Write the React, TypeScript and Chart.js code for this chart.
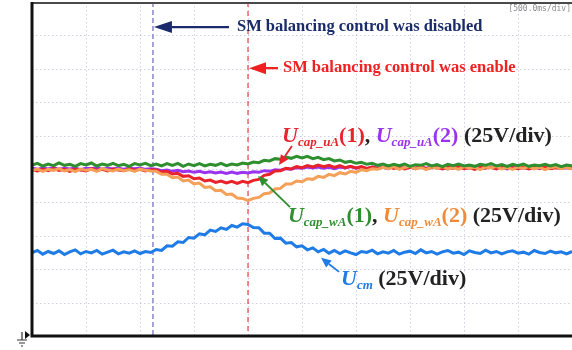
import React, { useEffect, useRef } from "react";
import { Chart, registerables } from "chart.js";
Chart.register(...registerables);

// Oscilloscope settings: 10 horizontal divisions at 500 ms/div, 10 vertical divisions
const SEC_PER_DIV = 0.5;
const X_DIVS = 10;
const Y_DIVS = 10;
const SAMPLE_STEP = 0.05; // seconds between read samples (0.1 div)

// Event times (s)
const T_DISABLED = 1.12;
const T_ENABLED = 2.0;

// Trace values in vertical divisions
const U_CM = [
  2.50, 2.56, 2.45, 2.53, 2.47, 2.55, 2.44, 2.52, 2.58, 2.46, 2.53, 2.49, 2.56, 2.45, 2.51, 2.57, 2.46, 2.52, 2.48, 2.55, 2.47, 2.53, 2.50,
  2.59, 2.56, 2.70, 2.69, 2.82, 2.80, 2.95, 2.93, 3.06, 3.03, 3.17, 3.13, 3.24, 3.19, 3.31, 3.26, 3.36, 3.34,
  3.25, 3.24, 3.08, 3.08, 2.92, 2.93, 2.78, 2.80, 2.67, 2.70, 2.58, 2.64, 2.52, 2.59, 2.48, 2.56,
  2.47, 2.55, 2.49, 2.44, 2.53, 2.50, 2.57, 2.46, 2.52, 2.48, 2.56, 2.45, 2.51, 2.54, 2.47, 2.58, 2.49, 2.53, 2.45, 2.52, 2.56, 2.48,
  2.51, 2.44, 2.55, 2.50, 2.47, 2.57, 2.49, 2.53, 2.46, 2.52, 2.55, 2.48, 2.51, 2.45, 2.56, 2.50, 2.47, 2.54, 2.49, 2.52, 2.46, 2.53,
];
const U_CAP_UA1 = [
  4.98, 4.94, 5.00, 4.95, 5.01, 4.96, 4.99, 4.93, 5.00, 4.97, 4.94, 5.01, 4.96, 4.99, 4.94, 5.00, 4.97, 4.95, 5.01, 4.96, 4.99, 4.94, 4.98,
  4.97, 4.91, 4.93, 4.85, 4.87, 4.78, 4.80, 4.71, 4.73, 4.64, 4.67, 4.60, 4.64, 4.58, 4.63, 4.57, 4.63, 4.59,
  4.66, 4.69, 4.81, 4.84, 4.94, 4.95, 5.02, 5.00, 5.07, 5.04,
  5.10, 5.06, 5.12, 5.07, 5.11, 5.05, 5.10, 5.04, 5.08, 5.03, 5.07, 5.02, 5.06, 5.01, 5.05, 5.08, 5.02, 5.06, 5.00, 5.05,
  5.03, 5.07, 5.01, 5.04, 5.06, 5.00, 5.05, 5.02, 5.07, 5.01, 5.04, 4.99, 5.06, 5.03, 5.05, 5.00, 5.07, 5.02, 5.04, 5.01,
  5.06, 5.00, 5.05, 5.03, 5.07, 5.01, 5.04, 5.02, 5.06, 5.01,
];
const U_CAP_UA2 = [
  5.02, 4.99, 5.03, 5.00, 5.04, 4.99, 5.02, 5.00, 5.03, 4.98, 5.02, 5.01, 5.04, 4.99, 5.02, 5.00, 5.03, 4.99, 5.02, 5.01, 5.03, 4.99, 5.01,
  4.99, 4.95, 4.97, 4.93, 4.96, 4.92, 4.94, 4.90, 4.93, 4.89, 4.92, 4.88, 4.91, 4.87, 4.91, 4.87, 4.90, 4.88,
  4.92, 4.90, 4.95, 4.93, 4.98, 4.96, 5.01, 4.99, 5.04, 5.02, 5.06, 5.03,
  5.06, 5.02, 5.05, 5.01, 5.06, 5.03, 5.07, 5.02, 5.05, 5.00, 5.06, 5.03, 5.05, 5.01, 5.07, 5.02, 5.04, 5.06, 5.01, 5.05,
  5.02, 5.07, 5.03, 5.04, 5.00, 5.06, 5.02, 5.05, 5.03, 5.07, 5.01, 5.04, 5.06, 5.02, 5.05, 5.00, 5.06, 5.03, 5.04, 5.02,
  5.07, 5.01, 5.05, 5.03, 5.06, 5.02, 5.04, 5.03,
];
const U_CAP_WA1 = [
  5.12, 5.17, 5.09, 5.15, 5.10, 5.18, 5.11, 5.14, 5.08, 5.16, 5.12, 5.18, 5.09, 5.15, 5.11, 5.17, 5.10, 5.14, 5.08, 5.16, 5.12, 5.17, 5.10,
  5.15, 5.09, 5.16, 5.11, 5.17, 5.08, 5.15, 5.10, 5.16, 5.09, 5.14, 5.11, 5.17, 5.10, 5.15,
  5.12, 5.18, 5.15, 5.21, 5.19, 5.26, 5.24, 5.31, 5.29, 5.36, 5.32, 5.38, 5.33, 5.38, 5.31, 5.35, 5.28, 5.31, 5.24, 5.27,
  5.20, 5.23, 5.17, 5.20, 5.14, 5.17, 5.11, 5.15,
  5.09, 5.14, 5.10, 5.15, 5.08, 5.13, 5.11, 5.16, 5.09, 5.13, 5.07, 5.14, 5.10, 5.15, 5.09, 5.12, 5.08, 5.14, 5.11, 5.16,
  5.09, 5.13, 5.08, 5.14, 5.10, 5.15, 5.08, 5.12, 5.10, 5.14, 5.09, 5.13, 5.07, 5.12, 5.10,
];
const U_CAP_WA2 = [
  4.95, 5.00, 4.93, 4.99, 4.96, 5.01, 4.94, 4.98, 4.92, 5.00, 4.96, 4.99, 4.93, 5.01, 4.97, 4.94, 5.00, 4.95, 4.98, 4.93, 5.00, 4.96, 4.94,
  4.93, 4.84, 4.84, 4.74, 4.76, 4.64, 4.67, 4.55, 4.58, 4.45, 4.47, 4.35, 4.36, 4.24, 4.25, 4.13, 4.12, 4.05,
  4.12, 4.15, 4.26, 4.28, 4.40, 4.42, 4.55, 4.55, 4.64, 4.62, 4.71, 4.69, 4.78, 4.75, 4.84, 4.80, 4.89, 4.85, 4.93, 4.90,
  4.98, 4.95, 5.01,
  4.99, 5.05, 5.01, 5.07, 4.99, 5.04, 5.08, 5.00, 5.05, 4.98, 5.06, 5.02, 5.08, 5.00, 5.04, 4.99, 5.07, 5.02, 5.05, 4.98,
  5.06, 5.03, 5.08, 5.00, 5.04, 4.99, 5.06, 5.02, 5.07, 5.00, 5.05, 4.98, 5.04, 5.07, 5.01, 5.05, 5.00,
];

const C_RED = "#e8232b";
const C_PURPLE = "#9a32f0";
const C_GREEN = "#2f8f2f";
const C_ORANGE = "#f5a058";
const C_ORANGE_TXT = "#ef8a3a";
const C_BLUE = "#1f7be6";
const C_NAVY = "#1a2b6b";
const C_BLACK = "#222";

const SERIES = [
  { label: "Ucap_wA(1)", values: U_CAP_WA1, color: C_GREEN },
  { label: "Ucap_wA(2)", values: U_CAP_WA2, color: C_ORANGE },
  { label: "Ucap_uA(1)", values: U_CAP_UA1, color: C_RED },
  { label: "Ucap_uA(2)", values: U_CAP_UA2, color: C_PURPLE },
  { label: "Ucm", values: U_CM, color: C_BLUE },
];

const SERIF = '"Liberation Serif", "Times New Roman", serif';

type Piece = { t: string; c: string; it?: boolean; sub?: boolean };
const ROW_UA: Piece[] = [
  { t: "U", c: C_RED, it: true }, { t: "cap_uA", c: C_RED, it: true, sub: true }, { t: "(1)", c: C_RED },
  { t: ", ", c: C_BLACK },
  { t: "U", c: C_PURPLE, it: true }, { t: "cap_uA", c: C_PURPLE, it: true, sub: true }, { t: "(2)", c: C_PURPLE },
  { t: " (25V/div)", c: C_BLACK },
];
const ROW_WA: Piece[] = [
  { t: "U", c: C_GREEN, it: true }, { t: "cap_wA", c: C_GREEN, it: true, sub: true }, { t: "(1)", c: C_GREEN },
  { t: ", ", c: C_BLACK },
  { t: "U", c: C_ORANGE_TXT, it: true }, { t: "cap_wA", c: C_ORANGE_TXT, it: true, sub: true }, { t: "(2)", c: C_ORANGE_TXT },
  { t: " (25V/div)", c: C_BLACK },
];
const ROW_CM: Piece[] = [
  { t: "U", c: C_BLUE, it: true }, { t: "cm", c: C_BLUE, it: true, sub: true },
  { t: " (25V/div)", c: C_BLACK },
];

function drawArrow(ctx: CanvasRenderingContext2D, x1: number, y1: number, x2: number, y2: number, color: string, w: number, hl: number, hw: number) {
  const ang = Math.atan2(y2 - y1, x2 - x1);
  const bx = x2 - hl * Math.cos(ang);
  const by = y2 - hl * Math.sin(ang);
  ctx.save();
  ctx.strokeStyle = color;
  ctx.fillStyle = color;
  ctx.lineWidth = w;
  ctx.setLineDash([]);
  ctx.beginPath();
  ctx.moveTo(x1, y1);
  ctx.lineTo(bx, by);
  ctx.stroke();
  ctx.beginPath();
  ctx.moveTo(x2, y2);
  ctx.lineTo(bx + (hw / 2) * Math.sin(ang), by - (hw / 2) * Math.cos(ang));
  ctx.lineTo(bx - (hw / 2) * Math.sin(ang), by + (hw / 2) * Math.cos(ang));
  ctx.closePath();
  ctx.fill();
  ctx.restore();
}

function drawRich(ctx: CanvasRenderingContext2D, pieces: Piece[], x: number, baseline: number) {
  let cx = x;
  ctx.save();
  ctx.textBaseline = "alphabetic";
  ctx.textAlign = "left";
  for (const p of pieces) {
    const size = p.sub ? 13 : 22;
    ctx.font = `${p.it ? "italic " : ""}bold ${size}px ${SERIF}`;
    ctx.fillStyle = p.c;
    ctx.fillText(p.t, cx, baseline + (p.sub ? 4 : 0));
    cx += ctx.measureText(p.t).width;
  }
  ctx.restore();
}

const scopePlugin = {
  id: "scope",
  beforeDatasetsDraw(chart: any) {
    const { ctx, chartArea: a, scales } = chart;
    const xs = scales.x, ys = scales.y;
    ctx.save();
    ctx.strokeStyle = "rgba(180,175,205,0.6)";
    ctx.lineWidth = 1;
    ctx.setLineDash([1.5, 2.5]);
    for (let i = 1; i < X_DIVS; i++) {
      const px = Math.round(xs.getPixelForValue(i * SEC_PER_DIV)) + 0.5;
      ctx.beginPath(); ctx.moveTo(px, a.top); ctx.lineTo(px, a.bottom); ctx.stroke();
    }
    for (let j = 1; j < Y_DIVS; j++) {
      const py = Math.round(ys.getPixelForValue(j)) + 0.5;
      ctx.beginPath(); ctx.moveTo(a.left, py); ctx.lineTo(a.right, py); ctx.stroke();
    }
    // event markers
    ctx.lineWidth = 1.4;
    ctx.strokeStyle = "#8080c8";
    ctx.setLineDash([5, 3]);
    let px = xs.getPixelForValue(T_DISABLED);
    ctx.beginPath(); ctx.moveTo(px, a.top); ctx.lineTo(px, a.bottom); ctx.stroke();
    ctx.lineWidth = 1.2;
    ctx.strokeStyle = "#ee4040";
    ctx.setLineDash([5, 4]);
    px = xs.getPixelForValue(T_ENABLED);
    ctx.beginPath(); ctx.moveTo(px, a.top); ctx.lineTo(px, a.bottom); ctx.stroke();
    ctx.restore();
  },
  afterDatasetsDraw(chart: any) {
    const { ctx, chartArea: a, scales } = chart;
    const X = (v: number) => scales.x.getPixelForValue(v);
    const Y = (v: number) => scales.y.getPixelForValue(v);
    ctx.save();
    // frame
    ctx.setLineDash([]);
    ctx.strokeStyle = "#4a4a4a";
    ctx.lineWidth = 2;
    ctx.beginPath(); ctx.moveTo(a.left, a.top + 1); ctx.lineTo(a.right, a.top + 1); ctx.stroke();
    ctx.strokeStyle = "#111";
    ctx.lineWidth = 3;
    ctx.beginPath(); ctx.moveTo(a.left, a.top); ctx.lineTo(a.left, a.bottom); ctx.lineTo(a.right, a.bottom); ctx.stroke();

    // ground marker
    ctx.fillStyle = "#111";
    ctx.beginPath();
    ctx.moveTo(a.left - 2, a.bottom - 1);
    ctx.lineTo(a.left - 7, a.bottom - 5);
    ctx.lineTo(a.left - 7, a.bottom + 3);
    ctx.closePath(); ctx.fill();
    ctx.lineWidth = 1.2;
    ctx.strokeStyle = "#333";
    ctx.beginPath();
    ctx.moveTo(a.left - 10, a.bottom - 4); ctx.lineTo(a.left - 10, a.bottom + 4);
    ctx.moveTo(a.left - 15, a.bottom + 4); ctx.lineTo(a.left - 5, a.bottom + 4);
    ctx.moveTo(a.left - 13, a.bottom + 7); ctx.lineTo(a.left - 7, a.bottom + 7);
    ctx.moveTo(a.left - 11, a.bottom + 10); ctx.lineTo(a.left - 9, a.bottom + 10);
    ctx.stroke();

    // timebase label
    ctx.font = '8px "DejaVu Sans Mono", monospace';
    ctx.fillStyle = "#8c8c8c";
    ctx.textAlign = "right";
    ctx.textBaseline = "middle";
    ctx.fillText("[500.0ms/div]", a.right - 1, a.top + 7);

    // event annotations
    drawArrow(ctx, X(1.824), Y(9.25), X(T_DISABLED) + 1, Y(9.25), C_NAVY, 2.2, 18, 12);
    ctx.font = `bold 16.5px ${SERIF}`;
    ctx.textAlign = "left";
    ctx.textBaseline = "middle";
    ctx.fillStyle = C_NAVY;
    ctx.fillText("SM balancing control was disabled", X(1.898), Y(9.25));
    drawArrow(ctx, X(2.278), Y(8.02), X(T_ENABLED) + 1, Y(8.02), "#f02020", 2.2, 17, 12);
    ctx.fillStyle = "#f02020";
    ctx.fillText("SM balancing control was enable", X(2.324), Y(8.02));

    // trace labels
    drawRich(ctx, ROW_UA, X(2.315), Y(5.81));
    drawRich(ctx, ROW_WA, X(2.37), Y(3.41));
    drawRich(ctx, ROW_CM, X(2.861), Y(1.53));

    drawArrow(ctx, X(2.407), Y(5.69), X(2.287), Y(5.12), C_RED, 1.8, 10, 9);
    drawArrow(ctx, X(2.389), Y(3.86), X(2.093), Y(4.79), C_GREEN, 1.8, 10, 9);
    drawArrow(ctx, X(2.843), Y(1.92), X(2.676), Y(2.34), C_BLUE, 1.8, 10, 9);
    ctx.restore();
  },
};

export default function App() {
  const ref = useRef<HTMLCanvasElement | null>(null);
  useEffect(() => {
    if (!ref.current) return;
    const datasets = SERIES.map((s) => ({
      label: s.label,
      data: s.values.map((v, i) => ({ x: i * SAMPLE_STEP, y: v })),
      borderColor: s.color,
      backgroundColor: s.color,
      borderWidth: 3,
      pointRadius: 0,
      tension: 0,
      fill: false,
    }));
    const chart = new Chart(ref.current, {
      type: "line",
      data: { datasets },
      plugins: [scopePlugin],
      options: {
        animation: false,
        responsive: true,
        maintainAspectRatio: false,
        layout: { padding: { left: 32, top: 2, right: 0, bottom: 14 } },
        plugins: { legend: { display: false }, tooltip: { enabled: false } },
        scales: {
          x: { type: "linear", min: 0, max: X_DIVS * SEC_PER_DIV, display: false },
          y: { type: "linear", min: 0, max: Y_DIVS, display: false },
        },
      },
    });
    return () => chart.destroy();
  }, []);
  return (
    <div style={{ position: "fixed", left: 0, top: 0, width: 572, height: 350, background: "#fff" }}>
      <canvas ref={ref} />
    </div>
  );
}
